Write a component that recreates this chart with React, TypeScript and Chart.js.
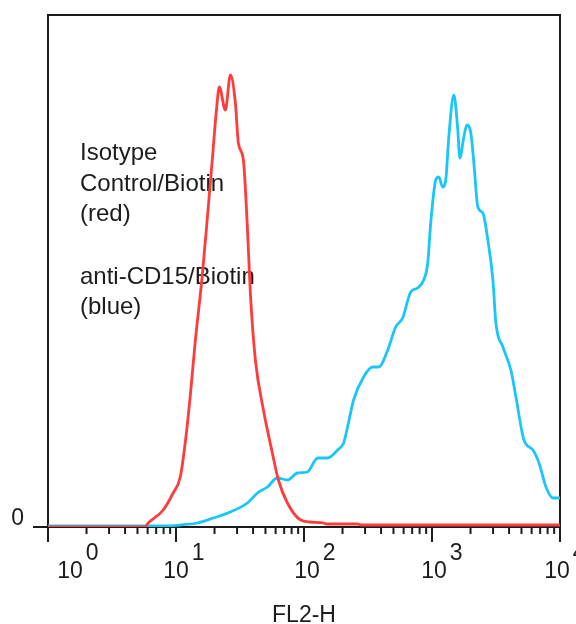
import React, { useEffect, useRef } from "react";
import { Chart, registerables } from "chart.js";

Chart.register(...registerables);

// Isotype Control/Biotin (red) — FL2-H channel values and counts
const redX = [1, 5.7, 6.07, 7.95, 9.5, 10.8, 11.8, 12.9, 14.1, 16.0, 17.6, 19.2, 20.7, 21.8, 24.3, 26.6, 29.1, 30.7, 33.6, 36.1, 38.1, 41.7, 48.2, 56.6, 63.1, 74.2, 93.9, 112, 142, 150, 262, 280, 10000];
const redY = [0, 0, 4, 17, 34, 50, 84, 130, 184, 250, 310, 367, 417, 440, 417, 452, 424, 384, 367, 300, 234, 167, 117, 74, 47, 24, 7, 5, 4, 3, 3, 2, 2];

// anti-CD15/Biotin (blue)
const blueX = [1, 8, 10.8, 14.7, 19.6, 26.6, 36.1, 43.3, 51.8, 62.0, 74.3, 88.9, 106, 128, 153, 183, 204, 219, 244, 292, 344, 383, 451, 520, 590, 682, 773, 861, 926, 977, 1070, 1129, 1213, 1281, 1353, 1480, 1591, 1649, 1773, 1872, 2011, 2124, 2281, 2496, 2731, 2991, 3156, 3580, 4131, 4526, 5228, 6147, 6854, 7768, 8816, 9818, 10000];
const blueY = [1, 1, 2, 4, 9, 15, 24, 34, 40, 49, 47, 54, 55, 69, 69, 77, 84, 100, 127, 150, 160, 160, 177, 200, 209, 235, 239, 247, 264, 304, 347, 350, 340, 347, 390, 432, 397, 369, 390, 402, 394, 364, 320, 314, 287, 247, 204, 180, 157, 130, 87, 77, 64, 40, 29, 29, 29];

const tickExponents = [0, 1, 2, 3, 4];
const yTickLabels = ["0"];
const xAxisTitle = "FL2-H";
const annotationLines = ["Isotype", "Control/Biotin", "(red)", "", "anti-CD15/Biotin", "(blue)"];

const FONT = '"Liberation Sans", Arial, sans-serif';
const INK = "#1c1c1c";

const framePlugin = {
  id: "frame",
  beforeDatasetsDraw(chart: any) {
    const { ctx, chartArea } = chart;
    const xs = chart.scales.x;
    const ys = chart.scales.y;
    const { left, right, top, bottom } = chartArea;
    ctx.save();
    ctx.strokeStyle = INK;
    ctx.lineWidth = 2;
    // frame
    ctx.beginPath();
    ctx.moveTo(left, bottom);
    ctx.lineTo(left, top);
    ctx.lineTo(right, top);
    ctx.lineTo(right, bottom);
    ctx.stroke();
    // x axis line
    ctx.beginPath();
    ctx.moveTo(left, bottom);
    ctx.lineTo(right, bottom);
    ctx.stroke();
    // y "0" tick
    const y0 = ys.getPixelForValue(0);
    ctx.beginPath();
    ctx.moveTo(left - 15, y0);
    ctx.lineTo(left, y0);
    ctx.stroke();
    // x ticks (log)
    for (let d = tickExponents[0]; d < tickExponents[tickExponents.length - 1]; d++) {
      for (let k = 1; k <= 9; k++) {
        const v = k * Math.pow(10, d);
        const px = xs.getPixelForValue(v);
        ctx.beginPath();
        ctx.moveTo(px, bottom);
        ctx.lineTo(px, bottom + (k === 1 ? 15 : 7));
        ctx.stroke();
      }
    }
    const last = xs.getPixelForValue(Math.pow(10, tickExponents[tickExponents.length - 1]));
    ctx.beginPath();
    ctx.moveTo(last, bottom);
    ctx.lineTo(last, bottom + 15);
    ctx.stroke();

    // tick labels
    ctx.fillStyle = INK;
    ctx.font = `23px ${FONT}`;
    ctx.textBaseline = "alphabetic";
    const labelShift = [22, 0, 3, 2, -3];
    tickExponents.forEach((e, i) => {
      const px = xs.getPixelForValue(Math.pow(10, e)) + labelShift[i];
      ctx.textAlign = "center";
      ctx.fillText("10", px, bottom + 51);
      const w = ctx.measureText("10").width;
      ctx.textAlign = "left";
      ctx.fillText(String(e), px + w / 2 + 3, bottom + 33);
    });
    // y label
    ctx.textAlign = "right";
    ctx.textBaseline = "middle";
    ctx.fillText(yTickLabels[0], 24, y0 - 8);
    // axis title
    ctx.textAlign = "center";
    ctx.textBaseline = "alphabetic";
    ctx.fillText(xAxisTitle, (left + right) / 2, 622);
    // annotation
    ctx.font = `24px ${FONT}`;
    ctx.textAlign = "left";
    const baselines = [160, 191, 221, 252, 284, 314];
    annotationLines.forEach((t, i) => {
      if (t) ctx.fillText(t, 80, baselines[i]);
    });
    ctx.restore();
  },
};

export default function App() {
  const ref = useRef<HTMLCanvasElement | null>(null);
  useEffect(() => {
    if (!ref.current) return;
    const chart = new Chart(ref.current, {
      type: "line",
      data: {
        datasets: [
          {
            label: "Isotype Control/Biotin",
            data: redX.map((x, i) => ({ x, y: redY[i] })),
            borderColor: "rgb(255,60,60)",
            borderWidth: 2.8,
            pointRadius: 0,
            tension: 0.25,
            cubicInterpolationMode: "monotone",
            fill: false,
          },
          {
            label: "anti-CD15/Biotin",
            data: blueX.map((x, i) => ({ x, y: blueY[i] })),
            borderColor: "rgb(24,198,248)",
            borderWidth: 2.8,
            pointRadius: 0,
            tension: 0.25,
            cubicInterpolationMode: "monotone",
            fill: false,
          },
        ],
      },
      options: {
        animation: false,
        responsive: false,
        devicePixelRatio: 1,
        layout: { padding: { left: 48, top: 15, right: 16, bottom: 97 } },
        scales: {
          x: { type: "logarithmic", min: 1, max: 10000, display: false },
          y: { type: "linear", min: 0, max: 512, display: false },
        },
        plugins: { legend: { display: false }, tooltip: { enabled: false } },
      },
      plugins: [framePlugin],
    });
    return () => chart.destroy();
  }, []);
  return (
    <div style={{ position: "fixed", left: 0, top: 0, width: 576, height: 624, background: "#fff" }}>
      <canvas ref={ref} width={576} height={624} style={{ width: 576, height: 624 }} />
    </div>
  );
}
